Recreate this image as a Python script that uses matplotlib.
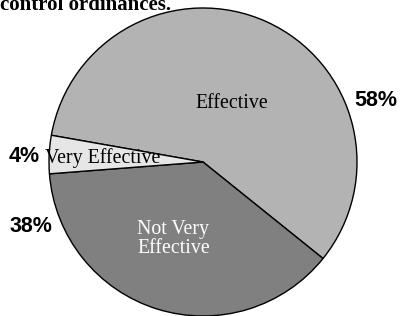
import matplotlib
matplotlib.use("Agg")
import matplotlib.pyplot as plt

labels = ["Effective", "Not Very\nEffective", "Very Effective"]
values = [58, 38, 4]
pct_labels = ["58%", "38%", "4%"]
colors = ["#b3b3b3", "#808080", "#e6e6e6"]

W, H = 401, 316
fig = plt.figure(figsize=(W/100, H/100), dpi=100)
ax = fig.add_axes([0, 0, 1, 1])

cx, cy, r = 203, 162, 154
ax.pie(values, colors=colors, startangle=-170, counterclock=True,
       center=(cx, cy), radius=r, frame=True,
       wedgeprops=dict(edgecolor="black", linewidth=1.0))
ax.set_xlim(0, W)
ax.set_ylim(H, 0)
ax.set_aspect("equal")
ax.axis("off")

serif = "Liberation Serif"
fs = 14.3
ax.text(232, 103, labels[0], ha="center", va="center", fontsize=fs, family=serif, color="black")
ax.text(137, 239, labels[1], ha="left", va="center", fontsize=fs, family=serif, color="white",
        linespacing=1.05, multialignment="left")
ax.text(103, 158, labels[2], ha="center", va="center", fontsize=fs, family=serif, color="black")

sans = "Liberation Sans"
pfs = 15.5
ax.text(376, 101, pct_labels[0], ha="center", va="center", fontsize=pfs, family=sans, weight="bold")
ax.text(31, 226, pct_labels[1], ha="center", va="center", fontsize=pfs, family=sans, weight="bold")
ax.text(24, 157, pct_labels[2], ha="center", va="center", fontsize=pfs, family=sans, weight="bold")

ax.text(0, 10, "control ordinances.", ha="left", va="baseline", fontsize=15, family=serif,
        weight="bold")

fig.savefig("out.png", dpi=100)
